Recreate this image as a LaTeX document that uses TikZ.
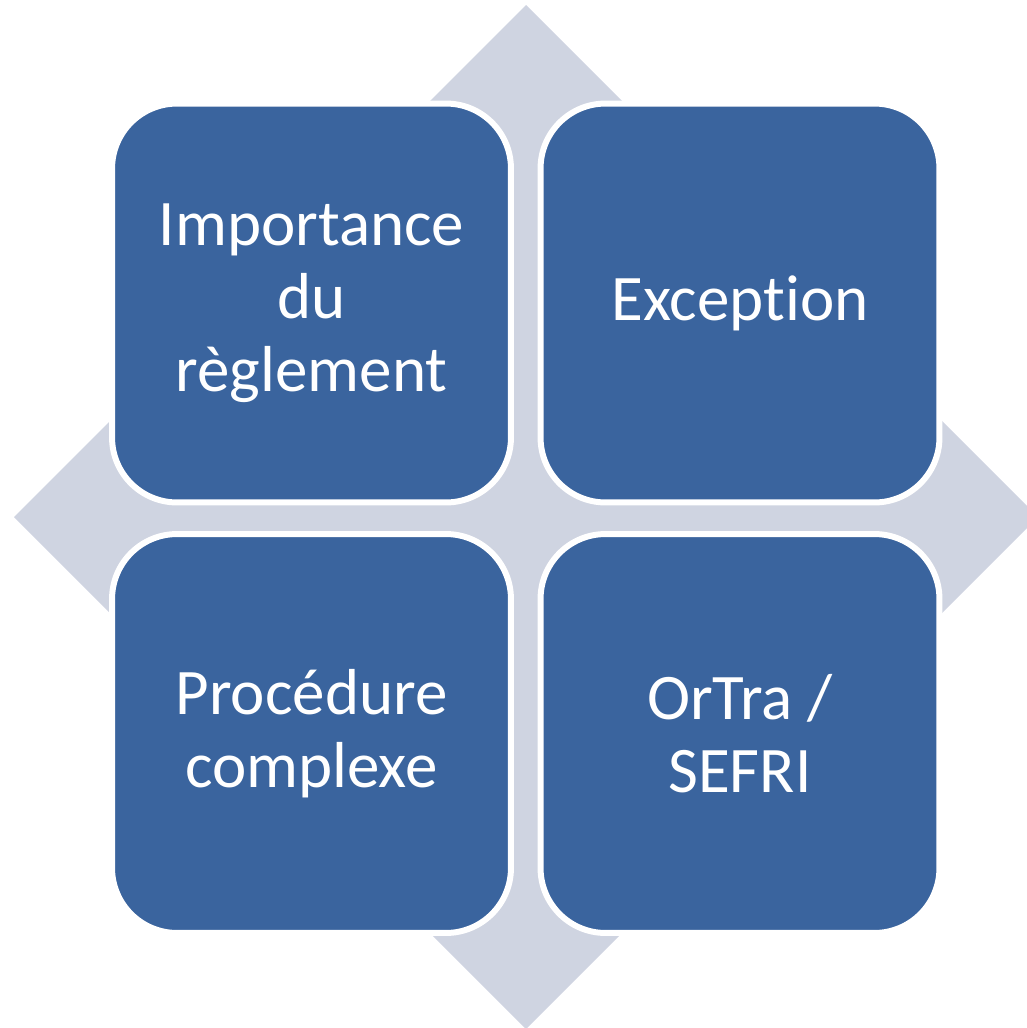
\documentclass[tikz,border=0pt]{standalone}
\usepackage{fontspec}
\setmainfont{Carlito}[Ligatures=NoCommon]
\usepackage{tikz}
\usetikzlibrary{calc,shapes,positioning}
\definecolor{boxblue}{RGB}{58,100,158}
\definecolor{backgrey}{RGB}{207,212,225}
\tikzstyle{every box}=[rectangle,fill=boxblue,draw=white,line width=6pt*0.02/0.0352778,
  rounded corners=1.3cm,minimum width=7.98cm,minimum height=7.98cm,inner sep=0pt,
  text=white,align=center,font=\fontsize{37pt}{41.5pt}\selectfont]

\begin{document}
\begin{tikzpicture}[x=0.02cm,y=-0.02cm]
          %% fond
          \useasboundingbox (0,0) rectangle (1027,1028);
          \fill[backgrey] (526,5) -- (1038,517) -- (526,1029) -- (14,517) -- cycle;

          % les quatre cases
          \tikzstyle{every node}=[every box]
          \node (regl) at (311.5,303) {Importance\\du\\règlement};
          \node (excp) at (740,303) {Exception};
          \node (proc) at (311.5,733.5) {Procédure\\complexe};
          \node (ortr) at (740,733.5) {OrTra /\\SEFRI};
\end{tikzpicture}
\end{document}
